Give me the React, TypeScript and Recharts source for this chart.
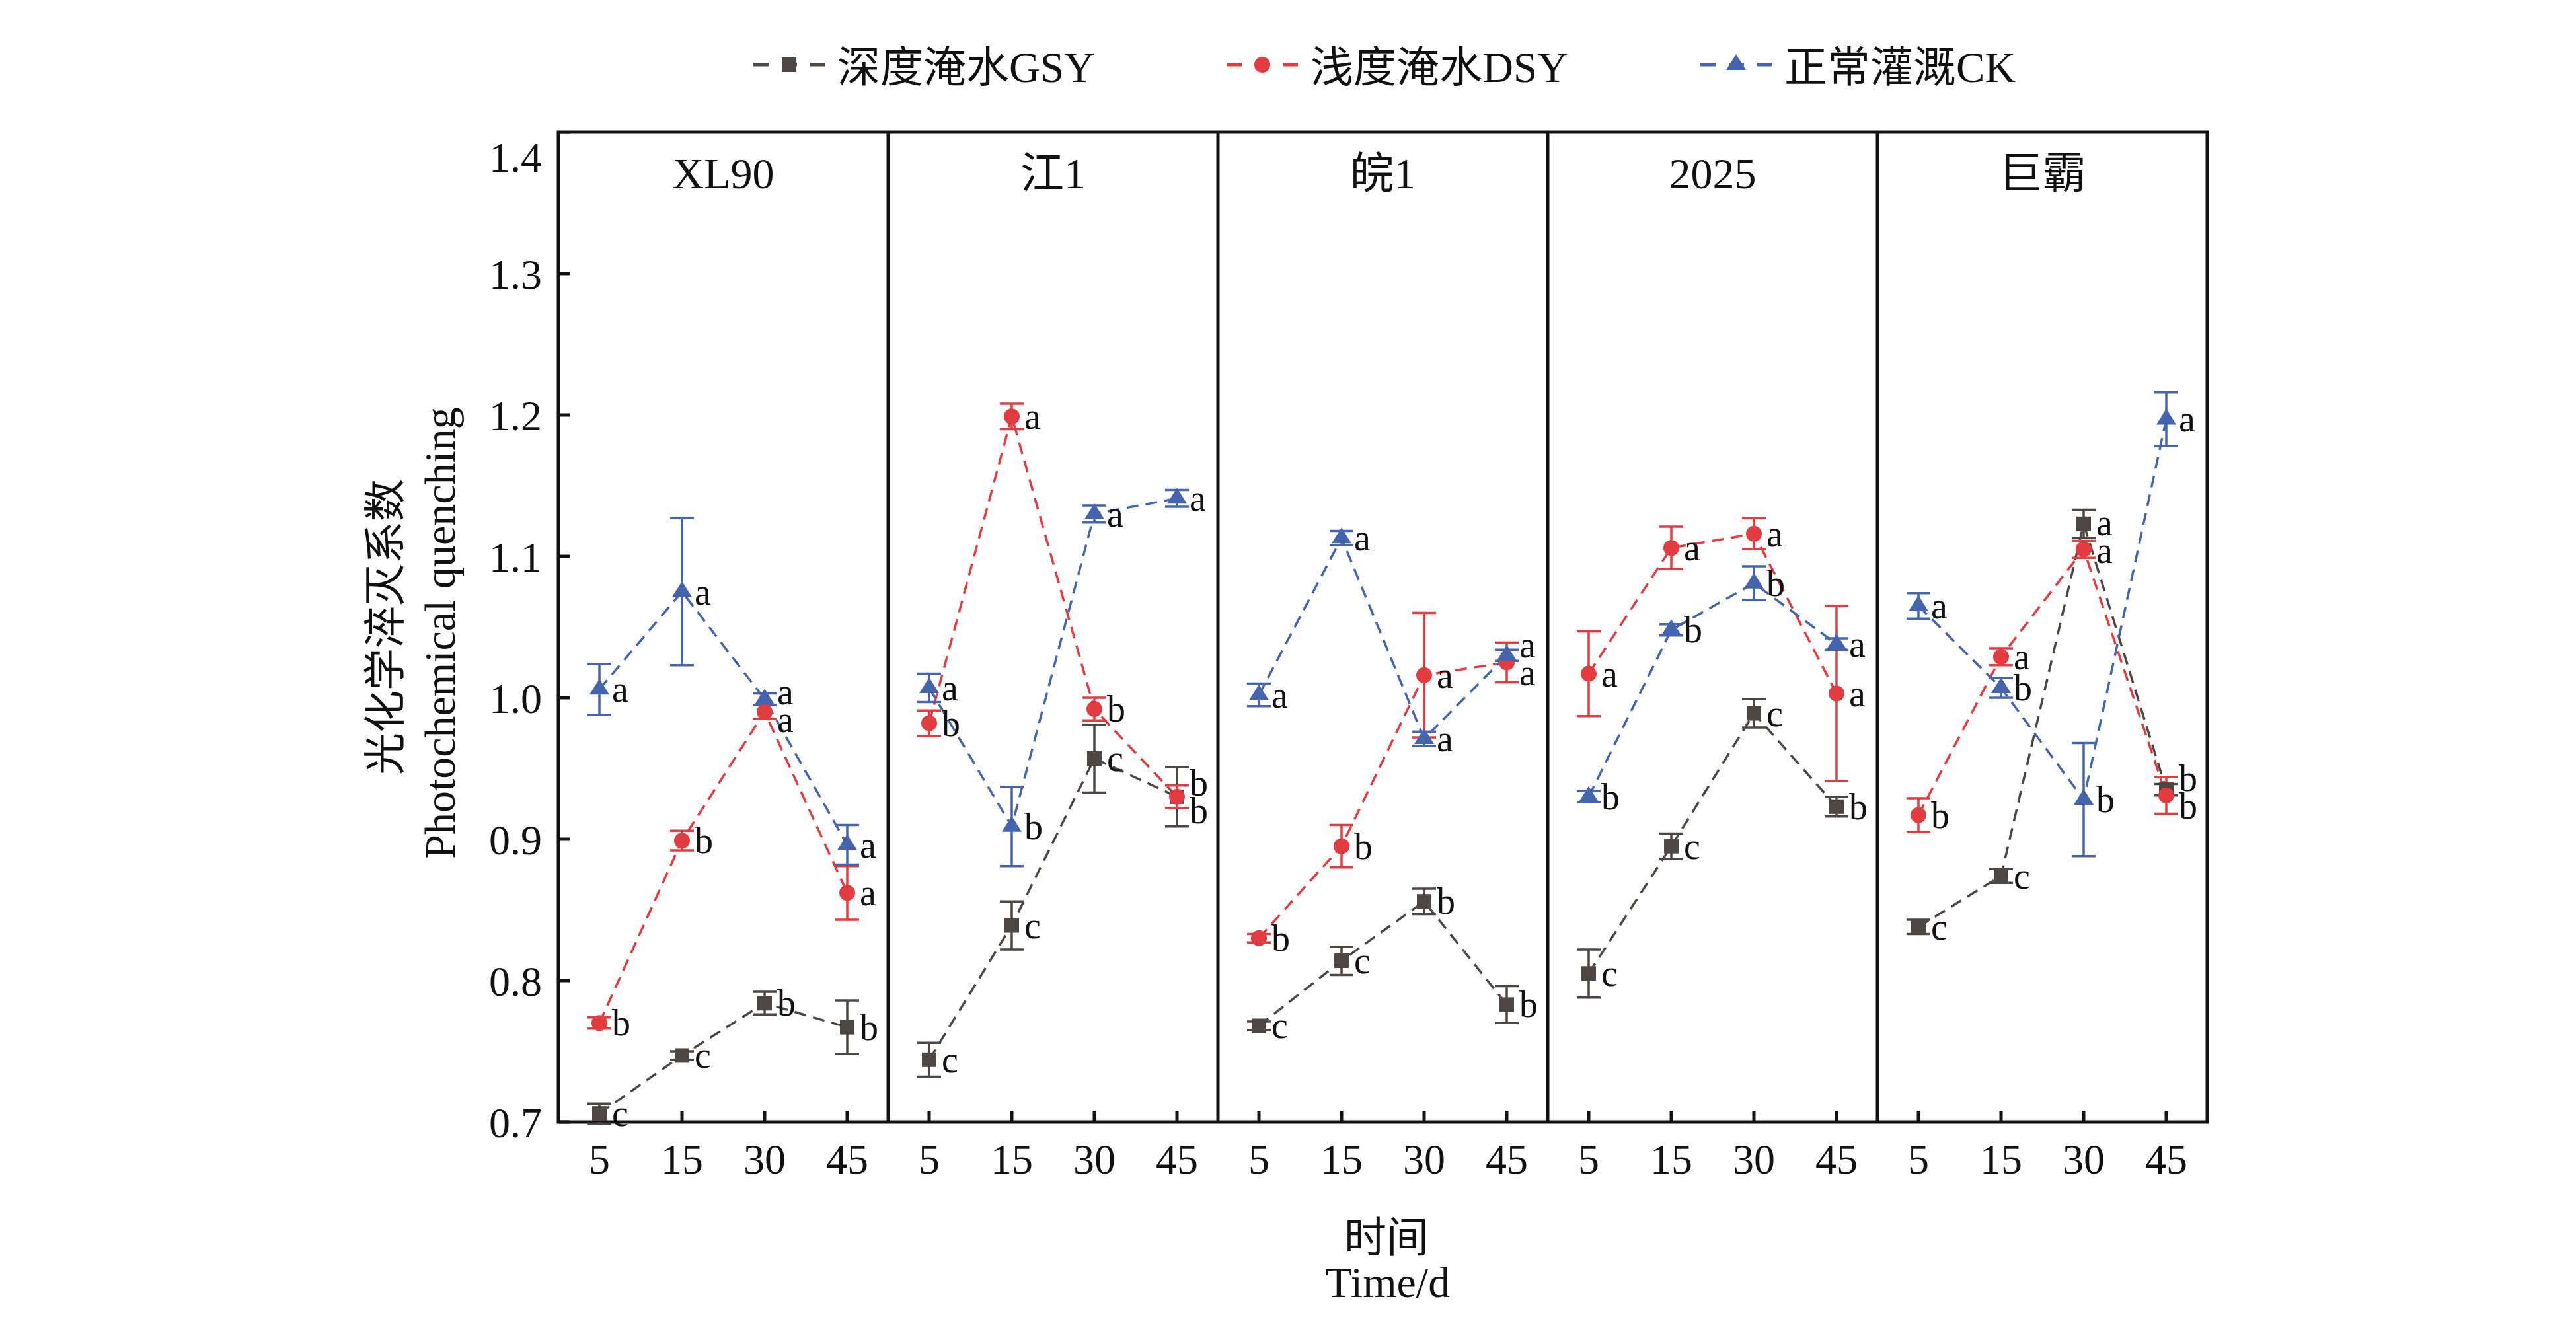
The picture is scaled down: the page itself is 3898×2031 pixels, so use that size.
import React from 'react';
import { LineChart, Line, XAxis, YAxis, ErrorBar, LabelList } from 'recharts';

// ---- data ----
const panels = ['XL90', '江1', '皖1', '2025', '巨霸'];
const days = ['5', '15', '30', '45'];
const yTicks = [0.7, 0.8, 0.9, 1.0, 1.1, 1.2, 1.3, 1.4];

// 深度淹水GSY
const gsyMean = [
  [0.706, 0.747, 0.784, 0.767],
  [0.744, 0.839, 0.957, 0.930],
  [0.768, 0.814, 0.856, 0.783],
  [0.805, 0.895, 0.989, 0.923],
  [0.838, 0.874, 1.123, 0.935],
];
const gsyErr = [
  [0.007, 0.003, 0.008, 0.019],
  [0.012, 0.017, 0.024, 0.021],
  [0.003, 0.010, 0.009, 0.013],
  [0.017, 0.009, 0.010, 0.007],
  [0.005, 0.005, 0.010, 0.004],
];
const gsyLetters = [
  ['c', 'c', 'b', 'b'],
  ['c', 'c', 'c', 'b'],
  ['c', 'c', 'b', 'b'],
  ['c', 'c', 'c', 'b'],
  ['c', 'c', 'a', 'b'],
];

// 浅度淹水DSY
const dsyMean = [
  [0.770, 0.899, 0.990, 0.862],
  [0.982, 1.199, 0.992, 0.930],
  [0.830, 0.895, 1.016, 1.025],
  [1.017, 1.106, 1.116, 1.003],
  [0.917, 1.029, 1.105, 0.931],
];
const dsyErr = [
  [0.004, 0.007, 0.005, 0.019],
  [0.009, 0.009, 0.008, 0.008],
  [0.003, 0.015, 0.044, 0.014],
  [0.030, 0.015, 0.011, 0.062],
  [0.012, 0.006, 0.006, 0.013],
];
const dsyLetters = [
  ['b', 'b', 'a', 'a'],
  ['b', 'a', 'b', 'b'],
  ['b', 'b', 'a', 'a'],
  ['a', 'a', 'a', 'a'],
  ['b', 'a', 'a', 'b'],
];

// 正常灌溉CK
const ckMean = [
  [1.006, 1.075, 0.999, 0.896],
  [1.007, 0.909, 1.130, 1.141],
  [1.002, 1.113, 0.971, 1.030],
  [0.930, 1.048, 1.081, 1.038],
  [1.065, 1.007, 0.928, 1.197],
];
const ckErr = [
  [0.018, 0.052, 0.004, 0.014],
  [0.010, 0.028, 0.006, 0.006],
  [0.008, 0.005, 0.005, 0.004],
  [0.004, 0.004, 0.012, 0.004],
  [0.009, 0.007, 0.040, 0.019],
];
const ckLetters = [
  ['a', 'a', 'a', 'a'],
  ['a', 'b', 'a', 'a'],
  ['a', 'a', 'a', 'a'],
  ['b', 'b', 'b', 'a'],
  ['a', 'b', 'b', 'a'],
];

const series = [
  { key: 'gsy', name: '深度淹水GSY', color: '#4d4643', shape: 'square', mean: gsyMean, err: gsyErr, letters: gsyLetters },
  { key: 'dsy', name: '浅度淹水DSY', color: '#e23b40', shape: 'circle', mean: dsyMean, err: dsyErr, letters: dsyLetters },
  { key: 'ck', name: '正常灌溉CK', color: '#4464ad', shape: 'triangle', mean: ckMean, err: ckErr, letters: ckLetters },
];

// ---- layout ----
const PAGE_OFF = 8;
const PLOT_L = 845;
const PLOT_T = 200;
const PANEL_W = 499;
const PLOT_H = 1498;
const Y_AXIS_W = 300;
const X_AXIS_H = 150;
const Y_MIN = 0.7;
const Y_MAX = 1.4;
const PX_PER_UNIT = PLOT_H / (Y_MAX - Y_MIN);
const MIN_LABEL_GAP = 42;
const SERIF = '"Liberation Serif", "Times New Roman", "Noto Sans CJK SC", serif';
const INK = '#111111';

// spread significance letters that would collide at the same time point
function labelShifts(p: number): number[][] {
  const shifts = series.map(() => [0, 0, 0, 0]);
  days.forEach((_, i) => {
    const items = series
      .map((s, k) => ({ k, y: (Y_MAX - s.mean[p][i]) * PX_PER_UNIT }))
      .sort((a, b) => a.y - b.y);
    const pos = items.map((it) => it.y);
    for (let pass = 0; pass < 10; pass++) {
      for (let j = 1; j < pos.length; j++) {
        const gap = pos[j] - pos[j - 1];
        if (gap < MIN_LABEL_GAP) {
          const d = (MIN_LABEL_GAP - gap) / 2;
          pos[j - 1] -= d;
          pos[j] += d;
        }
      }
    }
    items.forEach((it, j) => {
      shifts[it.k][i] = pos[j] - it.y;
    });
  });
  return shifts;
}

function buildRows(p: number) {
  return days.map((d, i) => {
    const row: Record<string, any> = { day: d };
    series.forEach((s) => {
      row[s.key] = s.mean[p][i];
      row[s.key + 'Err'] = s.err[p][i];
      row[s.key + 'Lbl'] = s.letters[p][i];
    });
    return row;
  });
}

function Marker({ shape, color, cx, cy }: { shape: string; color: string; cx: number; cy: number }) {
  if (shape === 'square') return <rect x={cx - 11} y={cy - 11} width={22} height={22} fill={color} />;
  if (shape === 'circle') return <circle cx={cx} cy={cy} r={12} fill={color} />;
  return <path d={`M${cx},${cy - 16}L${cx + 15},${cy + 8}L${cx - 15},${cy + 8}Z`} fill={color} />;
}

const renderDot = (shape: string, color: string) => (props: any) => {
  const { cx, cy, index } = props;
  const key = `${shape}-${index}`;
  if (cx == null || cy == null) return <g key={key} />;
  return (
    <g key={key}>
      <Marker shape={shape} color={color} cx={cx} cy={cy} />
    </g>
  );
};

const renderLetter = (shifts: number[]) => (props: any) => {
  const x = props.x ?? props.viewBox?.x;
  const y = props.y ?? props.viewBox?.y;
  const idx = props.index ?? 0;
  if (x == null || y == null) return null;
  return (
    <text
      key={`lbl-${idx}`}
      x={x + 19}
      y={y + shifts[idx] + 19}
      fontFamily={SERIF}
      fontSize={56}
      fill={INK}
    >
      {props.value}
    </text>
  );
};

function Panel({ p }: { p: number }) {
  const first = p === 0;
  const width = PANEL_W + (first ? Y_AXIS_W : 0);
  const left = PLOT_L + PANEL_W * p - (first ? Y_AXIS_W : 0) - PAGE_OFF;
  const rows = buildRows(p);
  const shifts = labelShifts(p);
  return (
    <div style={{ position: 'absolute', left, top: PLOT_T - PAGE_OFF }}>
      <LineChart width={width} height={PLOT_H + X_AXIS_H} data={rows} margin={{ top: 0, right: 0, bottom: 0, left: 0 }}>
        <XAxis
          dataKey="day"
          height={X_AXIS_H}
          axisLine={false}
          padding={{ left: 62, right: 62 }}
          tickSize={-17}
          tickMargin={50}
          tickLine={{ stroke: INK, strokeWidth: 5 }}
          tick={{ fontFamily: SERIF, fontSize: 64, fill: INK }}
          interval={0}
        />
        <YAxis
          type="number"
          domain={[Y_MIN, Y_MAX]}
          ticks={yTicks}
          allowDataOverflow
          hide={!first}
          width={first ? Y_AXIS_W : 0}
          axisLine={false}
          tickSize={-17}
          tickMargin={42}
          tickLine={{ stroke: INK, strokeWidth: 5 }}
          tick={{ fontFamily: SERIF, fontSize: 64, fill: INK }}
          tickFormatter={(v: number) => v.toFixed(1)}
        />
        {series.map((s, k) => (
          <Line
            key={s.key}
            dataKey={s.key}
            stroke={s.color}
            strokeWidth={3.5}
            strokeDasharray="18 11"
            dot={renderDot(s.shape, s.color)}
            activeDot={false}
            isAnimationActive={false}
          >
            <ErrorBar
              dataKey={s.key + 'Err'}
              direction="y"
              width={18}
              strokeWidth={3.5}
              stroke={s.color}
              isAnimationActive={false}
            />
            <LabelList dataKey={s.key + 'Lbl'} content={renderLetter(shifts[k])} />
          </Line>
        ))}
      </LineChart>
    </div>
  );
}

function Overlay() {
  const legendStarts = [1267, 1983, 2700];
  const plotR = PLOT_L + PANEL_W * panels.length;
  return (
    <svg
      width={3890}
      height={2023}
      style={{ position: 'absolute', left: 0, top: 0 }}
    >
      <g transform={`translate(${-PAGE_OFF},${-PAGE_OFF})`}>
        {/* legend */}
        {series.map((s, k) => {
          const cx = legendStarts[k] - 73;
          return (
            <g key={s.key}>
              <line x1={cx - 54} y1={98} x2={cx + 54} y2={98} stroke={s.color} strokeWidth={5} strokeDasharray="23 20" />
              <Marker shape={s.shape} color={s.color} cx={cx} cy={98} />
              <text x={legendStarts[k]} y={102} dominantBaseline="central" fontFamily={SERIF} fontSize={65} fill={INK}>
                {s.name}
              </text>
            </g>
          );
        })}
        {/* frame and panel dividers */}
        <rect x={PLOT_L} y={PLOT_T} width={plotR - PLOT_L} height={PLOT_H} fill="none" stroke={INK} strokeWidth={5} />
        {panels.slice(1).map((_, i) => {
          const x = PLOT_L + PANEL_W * (i + 1);
          return <line key={i} x1={x} y1={PLOT_T} x2={x} y2={PLOT_T + PLOT_H} stroke={INK} strokeWidth={5} />;
        })}
        {/* panel titles */}
        {panels.map((t, i) => (
          <text
            key={t}
            x={PLOT_L + PANEL_W * i + PANEL_W / 2}
            y={262}
            textAnchor="middle"
            dominantBaseline="central"
            fontFamily={SERIF}
            fontSize={66}
            fill={INK}
          >
            {t}
          </text>
        ))}
        {/* y axis title */}
        <text transform="translate(583,949) rotate(-90)" textAnchor="middle" dominantBaseline="central" fontFamily={SERIF} fontSize={64} fill={INK}>
          光化学淬灭系数
        </text>
        <text transform="translate(665,958) rotate(-90)" textAnchor="middle" dominantBaseline="central" fontFamily={SERIF} fontSize={66} fill={INK}>
          Photochemical quenching
        </text>
        {/* x axis title */}
        <text x={2098} y={1873} textAnchor="middle" dominantBaseline="central" fontFamily={SERIF} fontSize={64} fill={INK}>
          时间
        </text>
        <text x={2100} y={1940} textAnchor="middle" dominantBaseline="central" fontFamily={SERIF} fontSize={66} fill={INK}>
          Time/d
        </text>
      </g>
    </svg>
  );
}

export default function App() {
  return (
    <div style={{ position: 'relative', width: 3890, height: 2023, background: '#ffffff' }}>
      <Overlay />
      {panels.map((_, p) => (
        <Panel key={p} p={p} />
      ))}
    </div>
  );
}
